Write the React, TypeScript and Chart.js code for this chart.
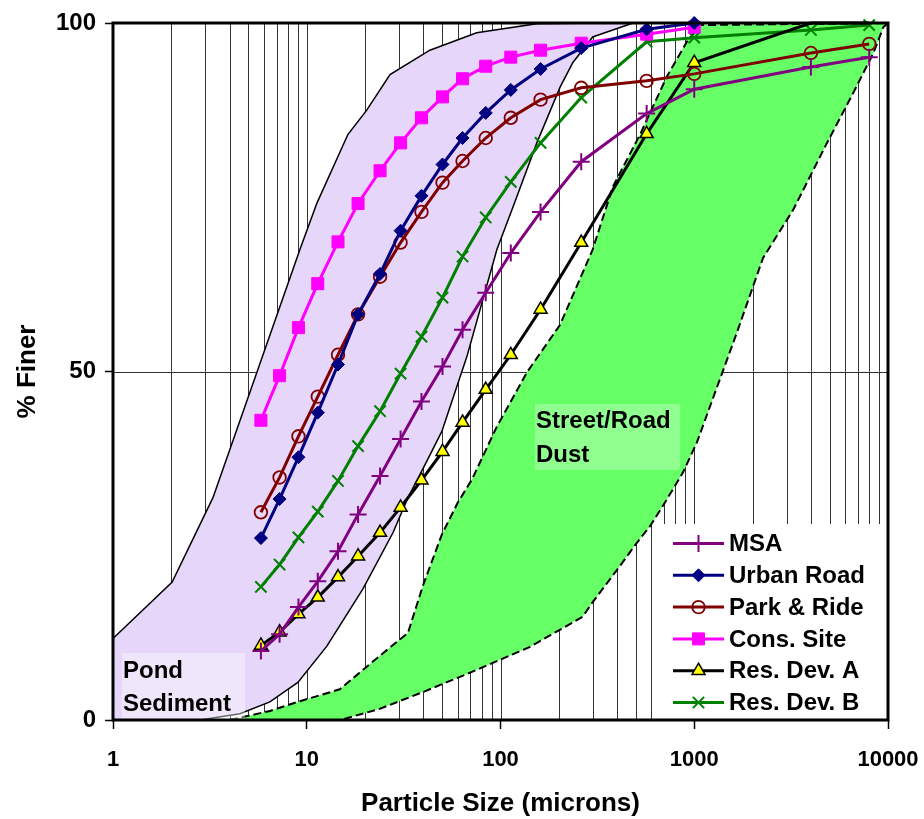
import React, { useEffect, useRef } from 'react';
import { Chart, registerables, PointElement } from 'chart.js';

Chart.register(...registerables);

const FONT = "'Liberation Sans', Arial, Helvetica, sans-serif";

// Particle size channels (microns)
const SIZES = [5.8, 7.24, 9.06, 11.4, 14.5, 18.4, 23.9, 30.5, 39.1, 50.2, 63.7, 83.9, 113, 161, 261, 568, 1000, 4000, 8000];

// % finer for each sample
const MSA = [9.9, 12.3, 16.2, 19.9, 24.2, 29.5, 35.0, 40.3, 45.7, 50.7, 56.0, 61.3, 67.0, 72.9, 80.1, 87.0, 90.5, 93.7, 95.1];
const URBAN_ROAD = [26.1, 31.7, 37.7, 44.1, 51.0, 58.2, 64.0, 70.2, 75.2, 79.7, 83.5, 87.1, 90.4, 93.4, 96.4, 99.1, 100];
const PARK_RIDE = [29.8, 34.8, 40.7, 46.4, 52.4, 58.2, 63.6, 68.5, 72.9, 77.1, 80.2, 83.5, 86.4, 89.0, 90.7, 91.7, 92.7, 95.7, 97.0];
const CONS_SITE = [43.0, 49.4, 56.3, 62.6, 68.6, 74.1, 78.8, 82.8, 86.4, 89.4, 92.0, 93.8, 95.1, 96.1, 97.1, 98.4, 99.4];
const RES_DEV_A = [10.7, 12.6, 15.2, 17.6, 20.5, 23.5, 26.9, 30.5, 34.4, 38.5, 42.7, 47.4, 52.4, 58.9, 68.5, 84.1, 94.3, 100, 100];
const RES_DEV_B = [19.1, 22.3, 26.2, 29.9, 34.3, 39.3, 44.3, 49.7, 55.0, 60.6, 66.5, 72.1, 77.2, 82.8, 89.3, 97.3, 97.9, 99.0, 99.7];

// Pond sediment envelope
const POND_UPPER_X = [1, 2.02, 3.28, 9.22, 11.3, 16.3, 20.4, 26.9, 43.2, 75.3, 154, 325];
const POND_UPPER_Y = [11.7, 19.8, 31.9, 67.5, 74.2, 84.0, 87.5, 92.6, 96.1, 98.6, 99.9, 100];
const POND_LOWER_X = [1, 2.81, 4.52, 6.45, 9.0, 12.7, 19.5, 27.9, 33.3, 39.7, 49.8, 67.0, 95.8, 116, 154, 203, 236, 299, 483];
const POND_LOWER_Y = [0, 0, 0.9, 2.6, 5.4, 10.6, 18.8, 26.9, 31.9, 36.0, 41.4, 52.1, 67.5, 73.6, 82.8, 90.8, 94.3, 98.0, 100];

// Street/road dust envelope
const DUST_UPPER_X = [4.02, 6.45, 9.22, 14.8, 23.8, 33.3, 39.7, 49.8, 60.2, 71.2, 95.8, 137, 203, 299, 380, 525, 722, 916, 1070, 10000];
const DUST_UPPER_Y = [0, 1.3, 2.7, 4.4, 9.2, 12.5, 19.2, 26.6, 31.2, 34.5, 42.1, 49.9, 56.7, 67.5, 76.5, 84.0, 92.3, 97.3, 99.7, 100];
const DUST_LOWER_X = [14.9, 23.8, 39.7, 71.2, 142, 265, 299, 401, 508, 591, 706, 874, 1031, 1399, 1680, 2265, 3241, 4845, 6624, 8410, 9460, 10000];
const DUST_LOWER_Y = [0, 1.6, 4.0, 6.9, 10.5, 14.8, 16.9, 21.6, 25.5, 27.8, 31.2, 35.5, 39.8, 49.9, 56.0, 66.3, 73.2, 82.8, 90.0, 95.7, 99.4, 100];

// Axis ticks
const X_DECADES = [1, 10, 100, 1000, 10000];
const X_GRID: number[] = [];
X_DECADES.forEach((d, i) => {
  if (i < X_DECADES.length - 1) for (let k = 1; k < 10; k++) X_GRID.push(k * d);
  else X_GRID.push(d);
});
const Y_TICKS = [0, 50, 100];

const X_TITLE = 'Particle Size (microns)';
const Y_TITLE = '% Finer';

const SERIES = [
  { label: 'MSA', values: MSA, color: '#800080', pointStyle: 'cross', radius: 8.5, bg: '#800080', pbw: 2, markers: 19 },
  { label: 'Urban Road', values: URBAN_ROAD, color: '#000080', pointStyle: 'rectRot', radius: 6.5, bg: '#000080', pbw: 1, markers: 17 },
  { label: 'Park & Ride', values: PARK_RIDE, color: '#800000', pointStyle: 'circle', radius: 6.3, bg: 'rgba(255,255,255,0)', pbw: 1.8, markers: 19 },
  { label: 'Cons. Site', values: CONS_SITE, color: '#FF00FF', pointStyle: 'rect', radius: 8.5, bg: '#FF00FF', pbw: 1, markers: 17 },
  { label: 'Res. Dev. A', values: RES_DEV_A, color: '#000000', pointStyle: 'triangle', radius: 7.5, bg: '#FFFF00', pbw: 1.5, markers: 17 },
  { label: 'Res. Dev. B', values: RES_DEV_B, color: '#008000', pointStyle: 'crossRot', radius: 8, bg: '#008000', pbw: 2, markers: 19 },
];

const pts = (xs: number[], ys: number[]) => xs.map((x, i) => ({ x, y: ys[i] }));

const overlayPlugin = {
  id: 'overlay',
  beforeDatasetsDraw(chart: any) {
    const { ctx, chartArea: a, scales } = chart;
    const x = scales.x;
    const y = scales.y;
    ctx.save();
    ctx.beginPath();
    ctx.rect(a.left, a.top, a.right - a.left, a.bottom - a.top);
    ctx.clip();
    ctx.strokeStyle = '#333333';
    ctx.lineWidth = 1;
    ctx.beginPath();
    for (const t of x.ticks) {
      const px = Math.round(x.getPixelForValue(t.value)) + 0.5;
      ctx.moveTo(px, a.top);
      ctx.lineTo(px, a.bottom);
    }
    const py = Math.round(y.getPixelForValue(50)) + 0.5;
    ctx.moveTo(a.left, py);
    ctx.lineTo(a.right, py);
    ctx.stroke();
    ctx.restore();
  },
  afterDatasetsDraw(chart: any) {
    const { ctx, chartArea: a } = chart;
    ctx.save();
    // Region labels
    ctx.font = `bold 24px ${FONT}`;
    ctx.textBaseline = 'alphabetic';
    ctx.textAlign = 'left';
    ctx.fillStyle = 'rgba(255,255,255,0.4)';
    ctx.fillRect(a.left + 9, a.bottom - 67, 123, 67);
    ctx.fillStyle = '#000';
    ctx.fillText('Pond', a.left + 10, a.bottom - 42);
    ctx.fillText('Sediment', a.left + 10, a.bottom - 9);

    ctx.fillStyle = 'rgba(255,255,255,0.28)';
    ctx.fillRect(a.left + 422, a.top + 381, 145, 66);
    ctx.fillStyle = '#000';
    ctx.fillText('Street/Road', a.left + 423, a.top + 405);
    ctx.fillText('Dust', a.left + 423, a.top + 439);

    // Legend
    const lx = a.left + 543;
    const ly = a.top + 501;
    ctx.fillStyle = '#fff';
    ctx.fillRect(lx, ly, a.right - lx, a.bottom - ly);
    const area = { left: 0, top: 0, right: 2000, bottom: 2000 };
    SERIES.forEach((s, i) => {
      const cy = ly + 19.5 + i * 31.8;
      ctx.strokeStyle = s.color;
      ctx.lineWidth = 3;
      ctx.setLineDash([]);
      ctx.beginPath();
      ctx.moveTo(lx + 17, cy);
      ctx.lineTo(lx + 68, cy);
      ctx.stroke();
      const p: any = new (PointElement as any)({
        x: lx + 42.5,
        y: cy,
        options: {
          pointStyle: s.pointStyle,
          radius: s.radius,
          rotation: 0,
          borderWidth: s.pbw,
          borderColor: s.color,
          backgroundColor: s.bg,
        },
      });
      p.draw(ctx, area);
      ctx.fillStyle = '#000';
      ctx.font = `bold 24px ${FONT}`;
      ctx.textBaseline = 'middle';
      ctx.textAlign = 'left';
      ctx.fillText(s.label, lx + 73, cy + 1);
    });

    // Plot border
    ctx.strokeStyle = '#000';
    ctx.lineWidth = 3;
    ctx.strokeRect(a.left, a.top, a.right - a.left, a.bottom - a.top);
    ctx.restore();
  },
};

export default function App() {
  const ref = useRef<HTMLCanvasElement | null>(null);
  useEffect(() => {
    if (!ref.current) return;
    const pond = [...pts(POND_UPPER_X, POND_UPPER_Y), ...pts(POND_LOWER_X, POND_LOWER_Y).reverse()];
    const dust = [...pts(DUST_UPPER_X, DUST_UPPER_Y), ...pts(DUST_LOWER_X, DUST_LOWER_Y).reverse()];

    const seriesSets = SERIES.map((s) => ({
      label: s.label,
      data: s.values.map((v, i) => ({ x: SIZES[i], y: v })),
      borderColor: s.color,
      backgroundColor: s.bg,
      borderWidth: 3,
      fill: false,
      pointStyle: s.pointStyle,
      pointRadius: s.values.map((_, i) => (i < s.markers ? s.radius : 0)),
      pointBackgroundColor: s.bg,
      pointBorderColor: s.color,
      pointBorderWidth: s.pbw,
      clip: false,
      order: 1,
    }));

    const chart = new Chart(ref.current, {
      type: 'line',
      data: {
        datasets: [
          ...seriesSets,
          {
            label: 'Pond Sediment',
            data: pond,
            borderColor: '#000',
            borderWidth: 1.5,
            backgroundColor: '#E6D6FA',
            fill: 'shape',
            pointRadius: 0,
            order: 5,
          },
          {
            label: 'Street/Road Dust',
            data: dust,
            borderColor: '#000',
            borderWidth: 2,
            borderDash: [8, 4],
            backgroundColor: '#66FF66',
            fill: 'shape',
            pointRadius: 0,
            order: 6,
          },
        ] as any,
      },
      options: {
        responsive: false,
        maintainAspectRatio: false,
        animation: false,
        devicePixelRatio: 1,
        events: [],
        layout: { padding: { left: 0, top: 23, right: 36, bottom: 0 } },
        plugins: {
          legend: { display: false },
          tooltip: { enabled: false },
        },
        scales: {
          x: {
            type: 'logarithmic',
            min: 1,
            max: 10000,
            afterBuildTicks: (s: any) => {
              s.ticks = X_GRID.map((v) => ({ value: v }));
            },
            afterFit: (s: any) => {
              s.height = 99;
              s.paddingLeft = 0;
              s.paddingRight = 0;
            },
            border: { display: false },
            grid: {
              drawOnChartArea: false,
              drawTicks: true,
              tickLength: 9,
              tickWidth: 1.5,
              tickColor: (c: any) => (c.tick && X_DECADES.includes(c.tick.value) ? '#000' : 'rgba(0,0,0,0)'),
            },
            ticks: {
              autoSkip: false,
              maxRotation: 0,
              minRotation: 0,
              padding: 18,
              color: '#000',
              font: { family: FONT, size: 22, weight: 'bold' },
              callback: (v: any) => (X_DECADES.includes(Number(v)) ? String(v) : ''),
            },
            title: {
              display: true,
              text: X_TITLE,
              color: '#000',
              font: { family: FONT, size: 26, weight: 'bold' },
              padding: { top: 0, bottom: 0 },
            },
          },
          y: {
            type: 'linear',
            min: 0,
            max: 100,
            afterBuildTicks: (s: any) => {
              s.ticks = Y_TICKS.map((v) => ({ value: v }));
            },
            afterFit: (s: any) => {
              s.width = 113;
              s.paddingTop = 0;
              s.paddingBottom = 0;
            },
            border: { display: false },
            grid: { drawOnChartArea: false, drawTicks: true, tickLength: 8, tickColor: '#000', tickWidth: 1.5 },
            ticks: {
              padding: 9,
              color: '#000',
              font: { family: FONT, size: 24, weight: 'bold' },
              callback: (v: any) => String(v),
            },
            title: {
              display: true,
              text: Y_TITLE,
              color: '#000',
              font: { family: FONT, size: 26, weight: 'bold' },
              padding: { top: 12, bottom: 0 },
            },
          },
        },
      } as any,
      plugins: [overlayPlugin],
    });
    return () => chart.destroy();
  }, []);

  return (
    <div style={{ position: 'absolute', left: 0, top: 0, width: 924, height: 819, background: '#fff' }}>
      <canvas ref={ref} width={924} height={819} style={{ display: 'block' }} />
    </div>
  );
}
